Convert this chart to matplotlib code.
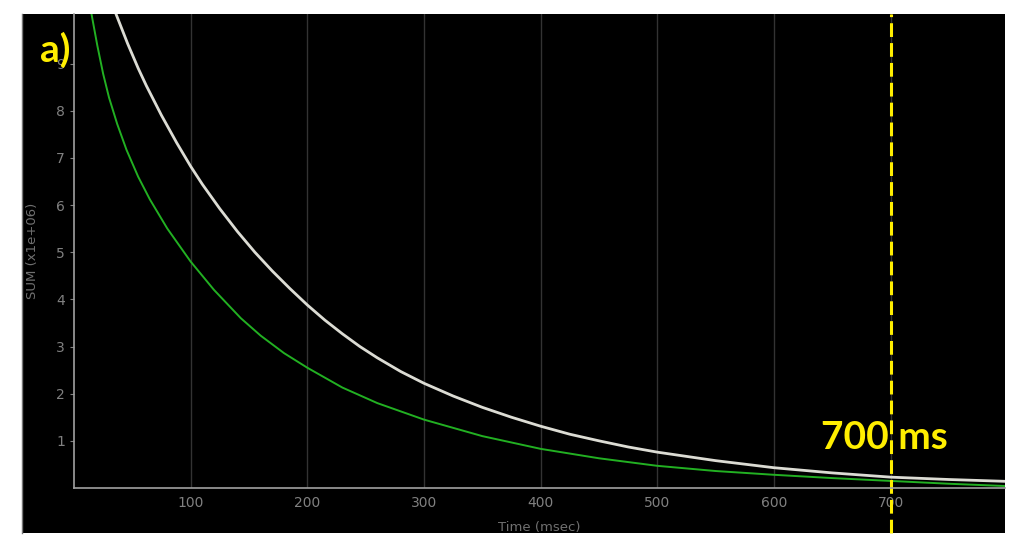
import matplotlib.pyplot as plt
from matplotlib.patches import Rectangle
from matplotlib.lines import Line2D

# decay curves (SUM in units of 1e6)
white_t = [30, 36, 46, 55, 62, 75, 88, 100, 110, 125, 140, 155, 170, 185,
           200, 215, 230, 245, 260, 280, 300, 325, 350, 375, 400, 425, 450,
           475, 500, 550, 600, 650, 700, 750, 800]
white_v = [10.46, 10.05, 9.42, 8.9, 8.53, 7.9, 7.32, 6.82, 6.44, 5.92, 5.44,
           5.0, 4.6, 4.23, 3.88, 3.56, 3.27, 3.0, 2.76, 2.47, 2.22, 1.95,
           1.71, 1.50, 1.31, 1.14, 1.0, 0.87, 0.76, 0.58, 0.43, 0.32, 0.23,
           0.18, 0.14]

green_t = [8, 15, 20, 25, 30, 37, 45, 55, 65, 80, 100, 120, 143, 160, 180,
           200, 230, 260, 300, 350, 400, 450, 500, 550, 600, 650, 700, 750,
           800]
green_v = [11.1, 10.05, 9.38, 8.78, 8.28, 7.72, 7.17, 6.6, 6.12, 5.5, 4.8,
           4.2, 3.6, 3.23, 2.86, 2.55, 2.13, 1.80, 1.45, 1.1, 0.83, 0.63,
           0.47, 0.36, 0.28, 0.21, 0.15, 0.09, 0.04]

x_ticks = [100, 200, 300, 400, 500, 600, 700]
y_ticks = [1, 2, 3, 4, 5, 6, 7, 8, 9]
marker_t = 700

W, H = 1009, 541
fig = plt.figure(figsize=(W / 100, H / 100), dpi=100, facecolor="white")

# black panel behind the plot
fig.patches.append(Rectangle((22 / W, 1 - 533 / H), 983 / W, 519 / H,
                             transform=fig.transFigure, facecolor="black",
                             edgecolor="none", zorder=-5))
fig.lines.append(Line2D([22 / W, 22 / W], [1 - 533 / H, 1 - 14 / H],
                        transform=fig.transFigure, color="#777777", lw=1,
                        zorder=-4))

ax = fig.add_axes([74 / W, 1 - 488 / H, (1005 - 74) / W, (488 - 14) / H])
ax.set_zorder(2)
ax.set_facecolor("black")

ax.plot(green_t, green_v, color="#22b022", lw=1.4)
ax.plot(white_t, white_v, color="#dcdcd4", lw=2.0)

ax.set_xlim(0, 798)
ax.set_ylim(0, 10.05)
ax.set_xticks(x_ticks)
ax.set_yticks(y_ticks)
ax.grid(axis="x", color="#333333", lw=1)
ax.set_axisbelow(True)

for side in ["top", "right"]:
    ax.spines[side].set_visible(False)
for side in ["left", "bottom"]:
    ax.spines[side].set_color("#a0a0a0")
    ax.spines[side].set_linewidth(1.2)

ax.tick_params(colors="#808080", labelsize=10, length=3)
ax.tick_params(axis="x", length=0, pad=6)
ax.set_xlabel("Time (msec)", color="#707070", fontsize=9.5, labelpad=8)
ax.set_ylabel("SUM (x1e+06)", color="#707070", fontsize=9.5, labelpad=12)

# yellow 700 ms marker
ax.axvline(marker_t, ymin=-45 / 474, ymax=1, color="#ffee00", lw=2.2,
           ls=(0, (4.5, 2)), clip_on=False)
ax.text(695, 1.08, "700 ms", color="#ffee00", fontsize=28,
        fontweight="bold", family="Lato", ha="center", va="center")
ax.text(-34 / 931 * 798, 10.05 - 36 / 474 * 10.05, "a)", color="#ffee00",
        fontsize=28, fontweight="bold", family="Lato", ha="left",
        va="center", clip_on=False)

fig.savefig("out.png", dpi=100, facecolor="white")
